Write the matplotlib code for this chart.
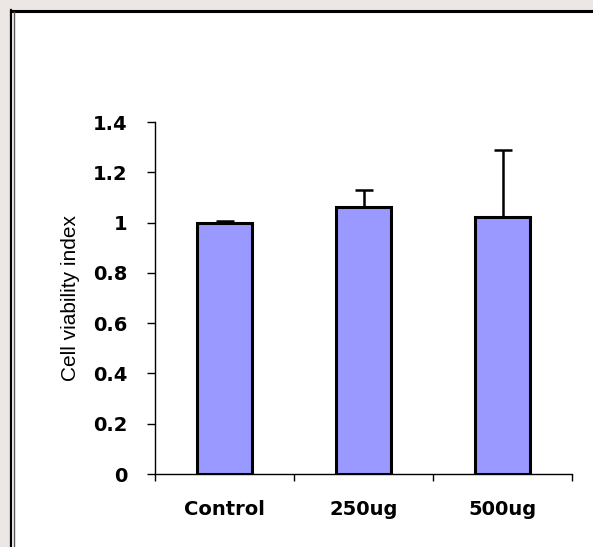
import numpy as np
import matplotlib as mpl
mpl.use('Agg')
import matplotlib.pyplot as plt
from matplotlib.patches import Rectangle
from matplotlib.lines import Line2D

groups = ['Control', '250ug', '500ug']
viability = [1.0, 1.063, 1.021]
sd = [0.005, 0.067, 0.267]
yticks = [0, 0.2, 0.4, 0.6, 0.8, 1, 1.2, 1.4]
ytick_labels = ['0', '0.2', '0.4', '0.6', '0.8', '1', '1.2', '1.4']

W, H = 593, 547
fig = plt.figure(figsize=(W/100, H/100), dpi=100)
fig.patch.set_facecolor('#ece7e5')

# white panel with black frame (double line on the left)
fig.add_artist(Rectangle((11/W, 0), 1, 1 - 11/H, transform=fig.transFigure,
                         facecolor='white', edgecolor='none', zorder=0))
fig.add_artist(Line2D([10.5/W, 1], [1 - 11/H, 1 - 11/H], transform=fig.transFigure,
                      color='black', lw=2.2))
fig.add_artist(Line2D([10.5/W, 10.5/W], [0, 1 - 10/H], transform=fig.transFigure,
                      color='black', lw=1.6))
fig.add_artist(Line2D([13.5/W, 13.5/W], [0, 1 - 12/H], transform=fig.transFigure,
                      color='#555555', lw=1.0))

ax = fig.add_axes([155/W, 1 - 474/H, (572 - 155)/W, (474 - 122)/H])
ax.set_facecolor('none')
x = np.arange(len(groups))
ax.bar(x, viability, width=0.40, color='#9999ff', edgecolor='black', linewidth=2.2, zorder=2)
ax.errorbar(x, viability, yerr=[np.zeros(len(sd)), sd], fmt='none', ecolor='black',
            elinewidth=1.8, capsize=6.5, capthick=1.8, zorder=1)

ax.set_xlim(-0.5, len(groups) - 0.5)
ax.set_ylim(0, 1.4)
ax.set_yticks(yticks)
ax.set_yticklabels(ytick_labels)
ax.set_xticks(np.arange(len(groups) + 1) - 0.5, minor=True)
ax.set_xticks(x)
ax.set_xticklabels(groups)
ax.tick_params(axis='x', which='major', length=0, pad=19)
ax.tick_params(axis='x', which='minor', length=5, width=1, direction='out')
ax.tick_params(axis='y', length=6, width=1, direction='out', pad=14)
for lbl in ax.get_xticklabels() + ax.get_yticklabels():
    lbl.set_fontfamily('DejaVu Sans')
    lbl.set_fontsize(14)
    lbl.set_fontweight('bold')

for s in ['top', 'right']:
    ax.spines[s].set_visible(False)
for s in ['left', 'bottom']:
    ax.spines[s].set_linewidth(1.0)

ax.set_ylabel('Cell viability index', fontfamily='Liberation Sans',
              fontsize=15, labelpad=9)

fig.savefig('out.png', dpi=100, facecolor=fig.get_facecolor())
